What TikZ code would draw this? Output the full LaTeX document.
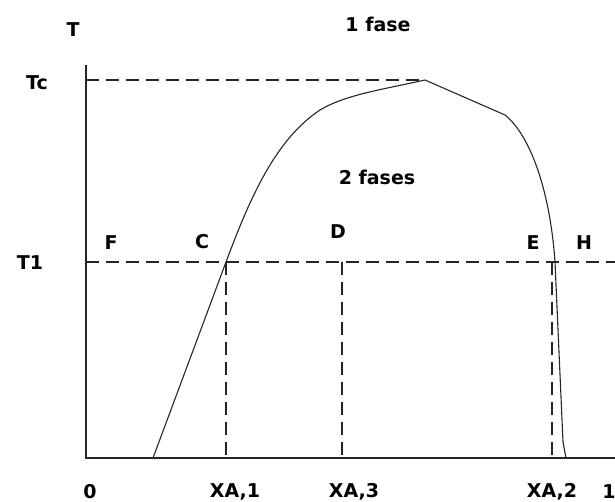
\documentclass[tikz,border=0pt]{standalone}
\usepackage{fontspec}
\setmainfont{DejaVu Sans}
\begin{document}
\begin{tikzpicture}[x=1pt,y=-1pt,
  lbl/.style={font=\bfseries\fontsize{19}{19}\selectfont, inner sep=0pt, anchor=center},
  axisline/.style={line width=1.3pt, black!85},
  guide/.style={line width=1.3pt, black!85, dash pattern=on 13pt off 7pt},
  curveline/.style={line width=1.1pt, black!85, line join=round}]
\useasboundingbox (0,0) rectangle (615,502);
% axis corner coordinates
\coordinate (ytop) at (86,65);
\coordinate (origin) at (86,458);
\coordinate (xend) at (615,458);
\coordinate (tcL) at (86,80);
\coordinate (peak) at (425,80);
\coordinate (t1L) at (86,262);
\coordinate (t1R) at (615,262);
\coordinate (pC) at (226,262);
\coordinate (pD) at (342,262);
\coordinate (pE) at (552,262);
\coordinate (bC) at (226,458);
\coordinate (bD) at (342,458);
\coordinate (bE) at (552,458);
\coordinate (leftfoot) at (153,458);
\coordinate (rightfoot) at (566,458);
% axes
\draw[axisline] (ytop) -- (origin) -- (xend);
% guides
\draw[guide] (tcL) -- (peak);
\draw[guide] (t1L) -- (t1R);
\draw[guide] (pC) -- (bC);
\draw[guide] (pD) -- (bD);
\draw[guide] (pE) -- (bE);
% coexistence curve
\draw[curveline] (leftfoot) -- (pC)
  .. controls (250,198) and (275,140) .. (320,110)
  .. controls (345,95) and (380,90) .. (peak)
  -- (505,115)
  .. controls (530,135) and (550,190) .. (555,262)
  -- (563,442) -- (rightfoot);
% labels
\node[lbl] (lT) at (73,30) {T};
\node[lbl] (lTc) at (37,83) {Tc};
\node[lbl] (lT1) at (30,263) {T1};
\node[lbl] (l1f) at (378,24) {1 fase};
\node[lbl] (l2f) at (377,177) {2 fases};
\node[lbl] (lF) at (111,243) {F};
\node[lbl] (lC) at (202,242) {C};
\node[lbl] (lD) at (338,232) {D};
\node[lbl] (lE) at (533,243) {E};
\node[lbl] (lH) at (584,243) {H};
\node[lbl] (l0) at (90,492) {0};
\node[lbl] (lx1) at (235,492) {XA,1};
\node[lbl] (lx3) at (354,492) {XA,3};
\node[lbl] (lx2) at (552,492) {XA,2};
\node[lbl] (l1) at (609,492) {1};
\end{tikzpicture}
\end{document}
